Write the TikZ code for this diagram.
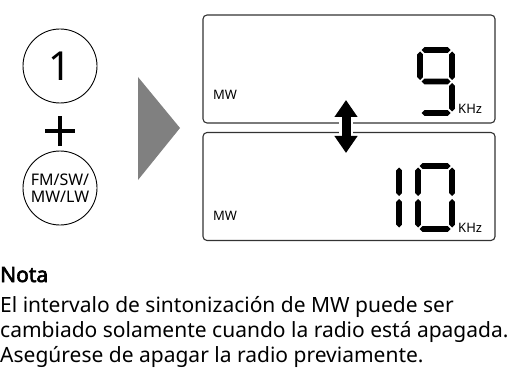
\documentclass[tikz,border=0pt]{standalone}
\usepackage{fontspec}
\setmainfont{Noto Sans}[AutoFakeBold=3]
\usetikzlibrary{arrows.meta,positioning}
\tikzset{
  dial/.style={draw=black, circle, line width=0.9pt, minimum size=74pt, inner sep=0pt, align=center},
  panel/.style={draw=black!80, rounded corners=4pt, line width=1.1pt, minimum width=292pt, minimum height=108pt, inner sep=0pt},
  tag/.style={font=\fontsize{13}{13}\selectfont, inner sep=0pt, anchor=base west},
  seg/.style={fill=black},
  pointer/.style={fill=black!50},
  swaparrow/.style={{Triangle[length=17pt,width=22pt]}-{Triangle[length=17pt,width=22pt]}, line width=9pt},
  halo/.style={draw=white, line width=14pt, shorten <=14pt, shorten >=14pt},
  notetext/.style={font=\fontsize{21}{25}\selectfont, align=left, inner sep=0pt}
}
% lcd segments: start x, start y, length
\newcommand{\hseg}[3]{\fill[seg] (#1+1.5,#2) -- (#1+4.3,#2-2.8) -- (#1+#3-4.3,#2-2.8) -- (#1+#3-1.5,#2) -- (#1+#3-4.3,#2+2.8) -- (#1+4.3,#2+2.8) -- cycle;}
\newcommand{\vseg}[3]{\fill[seg] (#1,#2+1.5) -- (#1+2.8,#2+4.3) -- (#1+2.8,#2+#3-4.3) -- (#1,#2+#3-1.5) -- (#1-2.8,#2+#3-4.3) -- (#1-2.8,#2+4.3) -- cycle;}
\begin{document}
\begin{tikzpicture}[x=1pt,y=-1pt]
\useasboundingbox (0,0) rectangle (510,382);
% buttons
\node[dial, font=\fontsize{40}{40}\selectfont] (one) at (60,66) {1};
\coordinate (plus) at (60,131);
\draw[line width=4pt] ([xshift=-15pt]plus) -- ([xshift=15pt]plus);
\draw[line width=4pt] ([yshift=-15pt]plus) -- ([yshift=15pt]plus);
\node[dial, font=\fontsize{16}{17}\selectfont] (band) at (60,188) {FM/SW/\\MW/LW};
\fill[pointer] (138,77) -- (180,128) -- (138,180) -- cycle;
% displays
\node[panel] (toppanel) at (349,69) {};
\node[panel] (botpanel) at (349,186.5) {};
\node[tag] (topband) at (213,100) {MW};
\node[tag] (botband) at (213,220) {MW};
\node[tag] (topunit) at (458,114) {KHz};
\node[tag] (botunit) at (458,232) {KHz};
% 9
\hseg{420}{50}{32}
\hseg{420}{81.5}{32}
\hseg{420}{113}{32}
\vseg{420}{50}{31.5}
\vseg{452}{50}{31.5}
\vseg{452}{81.5}{31.5}
% 10
\foreach \y in {166,197.5} {\vseg{399}{\y}{31.5} \vseg{418}{\y}{31.5} \vseg{452}{\y}{31.5}}
\hseg{418}{166}{34}
\hseg{418}{229}{34}
% swap arrow
\coordinate (up) at (346,100);
\coordinate (down) at (346,153);
\draw[halo] (up) -- (down);
\draw[swaparrow] (up) -- (down);
% note
\node[notetext, anchor=base west, font=\fontsize{21}{25}\selectfont\bfseries] (notehead) at (0,282) {Nota};
\node[notetext, anchor=north west] (notebody) at (0,296) {El intervalo de sintonización de MW puede ser\\cambiado solamente cuando la radio está apagada.\\Asegúrese de apagar la radio previamente.};
\end{tikzpicture}
\end{document}
